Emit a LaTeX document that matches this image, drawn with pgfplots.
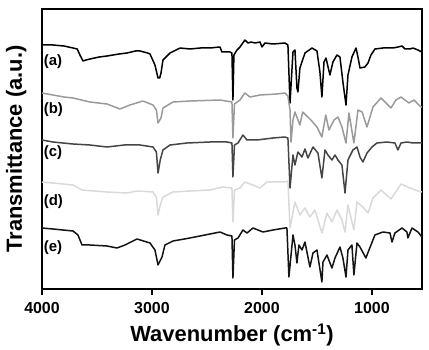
\documentclass[border=0pt]{standalone}
\usepackage{fontspec}
\setmainfont{Liberation Sans}
\usepackage{pgfplots}
\pgfplotsset{compat=1.18}
\definecolor{cb}{HTML}{9A9A9A}
\definecolor{cc}{HTML}{454545}
\definecolor{cd}{HTML}{D9D9D9}
\definecolor{ce}{HTML}{141414}
\begin{document}
\begin{tikzpicture}
\path (-42bp,-59bp) rectangle (387bp,289bp);
\begin{axis}[
  at={(0,0)}, anchor=south west,
  scale only axis, width=380bp, height=280bp,
  x dir=reverse, xmin=545, xmax=4000, ymin=-289, ymax=-9,
  xtick={1000,2000,3000,4000}, ytick=\empty,
  tick align=outside, xtick pos=bottom,
  major tick length=6bp,
  axis line style={line width=1.7bp},
  tick style={line width=1.4bp, black},
  /pgf/number format/assume math mode=true,
  /pgf/number format/1000 sep={},
  ticklabel style={font=\fontsize{16}{16}\selectfont\bfseries},
  xticklabel style={yshift=-4bp},
  label style={font=\fontsize{22}{22}\selectfont\bfseries},
  xlabel style={yshift=-3bp},
  ylabel style={yshift=6bp},
  xlabel={Wavenumber (cm\textsuperscript{-1})},
  ylabel={Transmittance (a.u.)},
  every axis plot/.append style={line width=1.5bp, line join=round},
  clip=true,
]
% (a)
\addplot[black] coordinates {
(4000,-45)(3900,-45)(3800,-46)(3718,-48)(3680,-49)(3655,-55)(3627,-61)(3600,-60)(3564,-59)(3480,-57)(3409,-56)(3300,-54)(3227,-53)(3150,-51)(3109,-51)(3040,-53)(3018,-54)(2973,-65)(2945,-78)(2930,-78)(2918,-73)(2900,-60)(2836,-53)(2745,-48)(2655,-49)(2560,-48)(2473,-48)(2382,-47)(2364,-52)(2291,-52)(2273,-53)(2264,-100)(2255,-55)(2227,-50)(2200,-47)(2155,-40)(2127,-43)(2100,-42)(2064,-43)(2018,-42)(2000,-47)(1973,-43)(1900,-44)(1791,-43)(1764,-45)(1745,-103)(1718,-52)(1700,-50)(1682,-88)(1673,-92)(1655,-68)(1609,-53)(1545,-48)(1500,-51)(1473,-72)(1455,-97)(1436,-62)(1418,-58)(1382,-75)(1355,-62)(1318,-55)(1291,-57)(1264,-82)(1236,-105)(1218,-75)(1182,-57)(1145,-48)(1127,-57)(1109,-68)(1064,-67)(1036,-63)(1009,-55)(973,-49)(900,-48)(809,-48)(764,-47)(727,-46)(700,-49)(655,-49)(627,-48)(582,-50)(564,-51)(545,-52)
};
% (b)
\addplot[cb] coordinates {
(4000,-93)(3900,-95)(3800,-97)(3718,-98)(3564,-102)(3409,-104)(3291,-109)(3200,-105)(3082,-101)(2991,-105)(2960,-110)(2945,-123)(2918,-118)(2900,-108)(2809,-102)(2655,-101)(2382,-100)(2273,-102)(2264,-138)(2250,-104)(2200,-100)(2155,-93)(2109,-97)(2018,-95)(1864,-94)(1791,-93)(1764,-96)(1745,-110)(1736,-142)(1718,-120)(1700,-112)(1655,-125)(1630,-112)(1555,-120)(1500,-127)(1455,-137)(1420,-115)(1391,-130)(1345,-120)(1309,-117)(1273,-127)(1236,-143)(1209,-113)(1164,-143)(1127,-110)(1090,-112)(1045,-127)(991,-107)(918,-98)(827,-108)(782,-100)(736,-97)(664,-103)(618,-100)(555,-107)(545,-107)
};
% (c)
\addplot[cc] coordinates {
(4000,-140)(3900,-142)(3718,-144)(3564,-145)(3409,-147)(3250,-145)(3109,-145)(2991,-147)(2960,-152)(2945,-173)(2925,-160)(2900,-150)(2836,-145)(2682,-143)(2473,-142)(2318,-142)(2273,-143)(2264,-177)(2250,-145)(2218,-143)(2173,-135)(2136,-140)(2045,-140)(1900,-138)(1791,-137)(1764,-138)(1745,-188)(1718,-155)(1700,-165)(1673,-152)(1636,-157)(1609,-149)(1582,-158)(1536,-147)(1491,-153)(1455,-178)(1427,-150)(1400,-155)(1364,-160)(1336,-155)(1309,-160)(1273,-165)(1245,-193)(1218,-160)(1173,-150)(1136,-147)(1109,-157)(1082,-162)(1045,-153)(1000,-147)(955,-143)(864,-142)(791,-143)(764,-150)(736,-143)(682,-142)(627,-143)(564,-143)(545,-143)
};
% (d)
\addplot[cd] coordinates {
(4000,-182)(3900,-183)(3718,-185)(3636,-190)(3409,-192)(3227,-193)(3136,-191)(2991,-192)(2960,-197)(2945,-215)(2925,-205)(2900,-197)(2809,-192)(2655,-191)(2473,-190)(2355,-187)(2273,-188)(2264,-222)(2250,-190)(2200,-188)(2155,-182)(2082,-185)(2018,-188)(1955,-182)(1791,-182)(1764,-181)(1745,-228)(1700,-202)(1655,-215)(1609,-208)(1564,-217)(1518,-210)(1455,-233)(1409,-213)(1364,-222)(1318,-210)(1273,-220)(1245,-232)(1218,-205)(1164,-230)(1136,-202)(1082,-207)(1036,-213)(991,-198)(918,-190)(827,-199)(736,-184)(655,-188)(555,-192)(545,-192)
};
% (e)
\addplot[ce] coordinates {
(4000,-228)(3900,-229)(3718,-231)(3673,-235)(3636,-245)(3564,-245)(3409,-246)(3318,-248)(3245,-245)(3136,-239)(3018,-243)(2973,-250)(2945,-265)(2909,-257)(2882,-245)(2809,-241)(2655,-238)(2382,-232)(2318,-235)(2273,-236)(2264,-278)(2250,-240)(2218,-238)(2173,-230)(2136,-233)(2082,-228)(1991,-232)(1900,-230)(1791,-228)(1773,-228)(1755,-277)(1718,-235)(1700,-245)(1682,-263)(1664,-245)(1636,-250)(1609,-242)(1564,-267)(1536,-253)(1500,-250)(1455,-282)(1445,-262)(1409,-255)(1364,-268)(1336,-258)(1291,-247)(1264,-258)(1236,-277)(1218,-250)(1182,-245)(1164,-275)(1136,-243)(1109,-247)(1055,-258)(1027,-250)(973,-235)(900,-232)(836,-233)(818,-242)(791,-233)(727,-228)(682,-232)(673,-238)(636,-228)(582,-232)(545,-237)
};
\node[anchor=west, font=\fontsize{15}{15}\selectfont\bfseries, inner sep=0pt] at (axis cs:3985,-62) {(a)};
\node[anchor=west, font=\fontsize{15}{15}\selectfont\bfseries, inner sep=0pt] at (axis cs:3985,-110) {(b)};
\node[anchor=west, font=\fontsize{15}{15}\selectfont\bfseries, inner sep=0pt] at (axis cs:3985,-153) {(c)};
\node[anchor=west, font=\fontsize{15}{15}\selectfont\bfseries, inner sep=0pt] at (axis cs:3985,-202) {(d)};
\node[anchor=west, font=\fontsize{15}{15}\selectfont\bfseries, inner sep=0pt] at (axis cs:3985,-248) {(e)};
\end{axis}
\end{tikzpicture}
\end{document}
